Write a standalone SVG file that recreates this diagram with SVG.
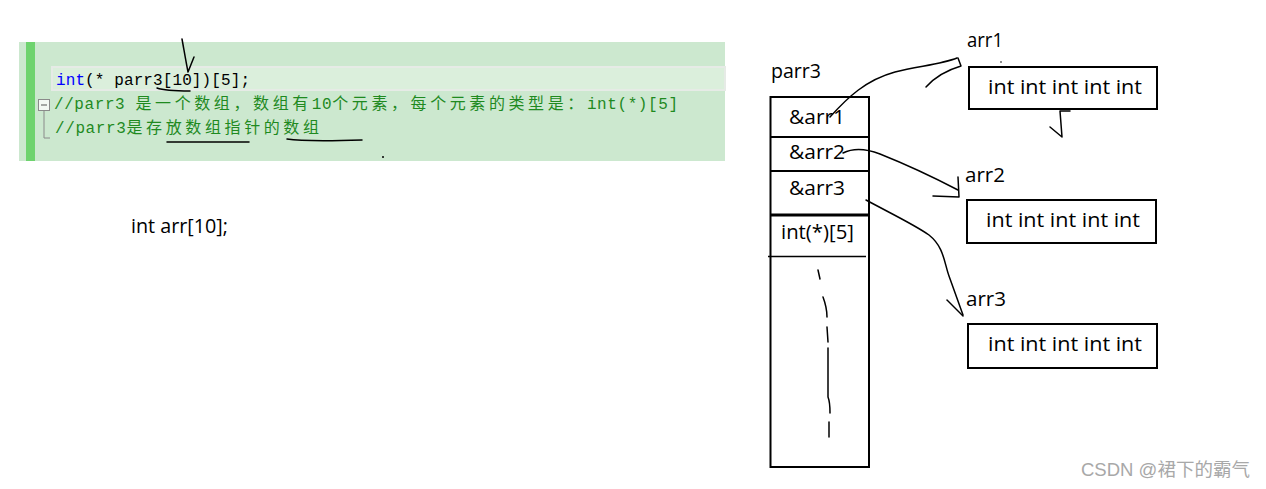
<svg xmlns="http://www.w3.org/2000/svg" width="1266" height="489" viewBox="0 0 1266 489">
<style>
.code{font-family:"Liberation Mono","Noto Sans CJK SC",monospace;font-size:16px}
.cjk{font-family:"Noto Sans CJK SC","Liberation Mono",sans-serif;font-size:16px;letter-spacing:3px}
.cmt{fill:#1f8a1f}
.kw{fill:#0000ff}
.lbl{font-family:"Open Sans","Noto Sans",sans-serif;font-size:20px;fill:#000}
.box{fill:#fff;stroke:#000;stroke-width:2}
.ink{fill:none;stroke:#000;stroke-width:1.5;stroke-linecap:round;stroke-linejoin:round}
</style>
<rect width="1266" height="489" fill="#fff"/>
<g id="code-panel">
  <rect x="19" y="42" width="706" height="119" fill="#cce8cf"/>
  <rect x="26" y="42" width="9" height="119" fill="#6ed36e"/>
  <rect x="52" y="67" width="673" height="23" fill="#dbefdc" stroke="#e6ebe6" stroke-width="2"/>
  <rect x="38.5" y="99.5" width="11" height="11" fill="#f4f8f4" stroke="#8a8a8a" stroke-width="1"/>
  <line x1="41" y1="105" x2="47" y2="105" stroke="#555" stroke-width="1"/>
  <path d="M44,111 V138 H50" fill="none" stroke="#8a8a8a" stroke-width="1"/>
  <text class="code" x="56" y="85" textLength="194" lengthAdjust="spacing"><tspan class="kw">int</tspan>(* parr3[10])[5];</text>
  <text class="code cmt" x="54" y="109" textLength="624" lengthAdjust="spacing">//parr3 <tspan class="cjk">是一个数组，数组有</tspan>10<tspan class="cjk">个元素，每个元素的类型是：</tspan>int(*)[5]</text>
  <text class="code cmt" x="55" y="133" textLength="267" lengthAdjust="spacing">//parr3<tspan class="cjk">是存放数组指针的数组</tspan></text>
  <path class="ink" d="M182,39 C184,50 186,62 188,72 L194,57"/>
  <path class="ink" d="M157,88 C165,91 178,91 190,91"/>
  <path class="ink" d="M167,142 L249,142"/>
  <path class="ink" d="M287,139 C300,141 330,141 362,140"/>
  <circle cx="383" cy="157" r="1" fill="#000"/>
</g>
<g id="int-arr">
  <text class="lbl" x="131" y="233" textLength="97" lengthAdjust="spacingAndGlyphs">int arr[10];</text>
</g>
<g id="parr3">
  <text class="lbl" x="771" y="78" textLength="50" lengthAdjust="spacingAndGlyphs">parr3</text>
  <rect class="box" x="770.5" y="97" width="98.5" height="370"/>
  <line x1="770.5" y1="137" x2="869" y2="137" stroke="#000" stroke-width="2"/>
  <line x1="770.5" y1="171" x2="869" y2="171" stroke="#000" stroke-width="2"/>
  <line x1="770.5" y1="215" x2="869" y2="215" stroke="#000" stroke-width="3"/>
  <line x1="768" y1="256.5" x2="866" y2="256.5" stroke="#000" stroke-width="1.3"/>
  <text class="lbl" x="789" y="124" textLength="56" lengthAdjust="spacingAndGlyphs">&amp;arr1</text>
  <text class="lbl" x="789" y="159" textLength="56" lengthAdjust="spacingAndGlyphs">&amp;arr2</text>
  <text class="lbl" x="789" y="195" textLength="56" lengthAdjust="spacingAndGlyphs">&amp;arr3</text>
  <text class="lbl" x="781" y="239" textLength="73" lengthAdjust="spacingAndGlyphs">int(*)[5]</text>
  <path class="ink" d="M818,270 L820,279 M823,297 C826,305 827,311 827,317 M827,327 L828,342 M828,348 L828,397 C830,402 830,407 830,413 M829,422 L829,437"/>
</g>
<g id="arr1">
  <text class="lbl" x="967" y="47" textLength="36" lengthAdjust="spacingAndGlyphs">arr1</text>
  <rect class="box" x="969" y="67" width="188" height="42"/>
  <text class="lbl" x="988" y="94" textLength="154" lengthAdjust="spacingAndGlyphs">int int int int int</text>
  <circle cx="1001" cy="62" r="0.8" fill="#000"/>
  <path class="ink" d="M1070,111 L1060,111 L1062,137 M1050,127 L1062,137"/>
</g>
<g id="arr2">
  <text class="lbl" x="965" y="182" textLength="40" lengthAdjust="spacingAndGlyphs">arr2</text>
  <rect class="box" x="967" y="200" width="189" height="43"/>
  <text class="lbl" x="986" y="227" textLength="154" lengthAdjust="spacingAndGlyphs">int int int int int</text>
</g>
<g id="arr3">
  <text class="lbl" x="966" y="306" textLength="40" lengthAdjust="spacingAndGlyphs">arr3</text>
  <rect class="box" x="968" y="324" width="189" height="44"/>
  <text class="lbl" x="988" y="351" textLength="154" lengthAdjust="spacingAndGlyphs">int int int int int</text>
</g>
<g id="connectors">
  <path class="ink" d="M830,117 C848,97 866,80 895,72 C920,66 942,64 957,58"/>
  <path class="ink" d="M926,87 C934,78 944,71 961,66 L958,58"/>
  <path class="ink" d="M843,153 C853,148 867,149 880,154 C905,164 935,178 958,190"/>
  <path class="ink" d="M958,177 L959,197 L933,196"/>
  <path class="ink" d="M866,200 C890,213 915,225 929,235 C944,247 944,262 949,276 L963,315"/>
  <path class="ink" d="M947,300 L963,316"/>
</g>
<g id="watermark">
  <text x="1081" y="476" font-family="Liberation Sans, Noto Sans CJK SC, sans-serif" font-size="18" fill="#a8a8a8" textLength="169" lengthAdjust="spacingAndGlyphs">CSDN @裙下的霸气</text>
</g>
</svg>
